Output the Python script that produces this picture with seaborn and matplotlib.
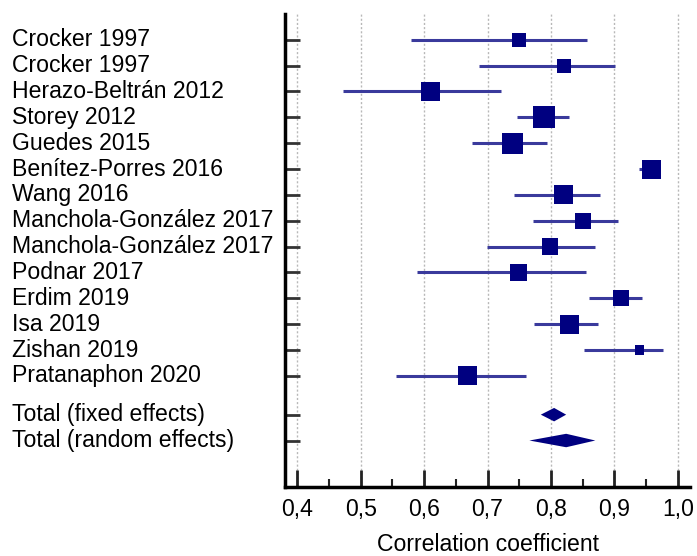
import seaborn as sns
import matplotlib.pyplot as plt
import matplotlib.transforms as mtransforms
from matplotlib.ticker import FuncFormatter, MultipleLocator
import numpy as np
import pandas as pd

# study data
studies = ["Crocker 1997", "Crocker 1997", "Herazo-Beltrán 2012", "Storey 2012",
           "Guedes 2015", "Benítez-Porres 2016", "Wang 2016", "Manchola-González 2017",
           "Manchola-González 2017", "Podnar 2017", "Erdim 2019", "Isa 2019",
           "Zishan 2019", "Pratanaphon 2020"]
r = [0.749, 0.820, 0.610, 0.789, 0.740, 0.959, 0.820, 0.850, 0.799, 0.749,
     0.910, 0.829, 0.940, 0.669]
ci_low = [0.580, 0.686, 0.472, 0.747, 0.676, 0.939, 0.741, 0.771, 0.699, 0.588,
          0.860, 0.773, 0.852, 0.556]
ci_high = [0.857, 0.901, 0.721, 0.828, 0.793, 0.968, 0.878, 0.905, 0.870, 0.855,
           0.943, 0.874, 0.977, 0.760]
weight = [4.6, 4.6, 8.5, 11.0, 10.3, 8.5, 8.5, 6.2, 6.2, 6.5, 6.2, 8.5, 2.0, 8.5]

totals = ["Total (fixed effects)", "Total (random effects)"]
total_r = [0.805, 0.824]
total_low = [0.784, 0.766]
total_high = [0.824, 0.870]

n = len(studies)
df = pd.DataFrame({"study": studies, "r": r, "low": ci_low, "high": ci_high,
                   "weight": weight, "pos": np.arange(n)})
tot_pos = [n + 0.5, n + 1.5]

sns.set_style("white")
plt.rcParams["font.family"] = ["Liberation Sans", "DejaVu Sans"]
plt.rcParams["font.size"] = 16.6
plt.rcParams["text.color"] = "black"
plt.rcParams["xtick.color"] = "black"
plt.rcParams["axes.labelcolor"] = "black"

fig = plt.figure(figsize=(6.97, 5.56), dpi=100)
ax = fig.add_axes([0.409, 0.124, 0.581, 0.851])

# grid
for gx in np.arange(0.4, 1.01, 0.1):
    ax.axvline(gx, color="#b8b8b8", lw=1, ls=(0, (1.5, 1.5)), zorder=0)

ax.hlines(df["pos"], df["low"], df["high"], color="#3a3a9c", lw=2.2, zorder=2)
sns.scatterplot(data=df, x="r", y="pos", size="weight", sizes=(0, 2215),
                size_norm=(0, 100), marker="s", color="#000080", linewidth=0,
                legend=False, ax=ax, zorder=3)

# pooled diamonds
for lo, est, hi, p in zip(total_low, total_r, total_high, tot_pos):
    ax.fill([lo, est, hi, est], [p, p - 0.26, p, p + 0.26], color="#000080",
            lw=0, zorder=3)

ax.set_xlim(0.3806, 1.0194)
ax.set_ylim(17.3, -1.0)

ax.xaxis.set_major_locator(MultipleLocator(0.1))
ax.xaxis.set_minor_locator(MultipleLocator(0.05))
ax.xaxis.set_major_formatter(FuncFormatter(lambda v, _: f"{v:.1f}".replace(".", ",")))
ax.tick_params(axis="x", which="both", bottom=True)
ax.tick_params(axis="x", which="major", direction="in", length=12, width=2,
               color="#222222", labelcolor="black", pad=8, labelsize=16.6)
ax.tick_params(axis="x", which="minor", direction="in", length=6, width=1.5,
               color="#222222")
ax.set_yticks(list(df["pos"]) + tot_pos)
ax.set_yticklabels([])
ax.tick_params(axis="y", left=True, direction="in", length=11, width=2,
               color="#333333")

for s in ["top", "right"]:
    ax.spines[s].set_visible(False)
for s in ["left", "bottom"]:
    ax.spines[s].set_linewidth(2.5)
    ax.spines[s].set_color("black")

ax.set_xlabel("Correlation coefficient", fontsize=16.6, labelpad=8.5)
ax.set_ylabel("")

# labels at the left edge
trans = mtransforms.blended_transform_factory(fig.transFigure, ax.transData)
for name, p in zip(studies + totals, list(df["pos"]) + tot_pos):
    ax.text(12 / 697, p, name, transform=trans, ha="left", va="center",
            fontsize=16.6, color="black", clip_on=False)

fig.savefig("out.png", dpi=100)
